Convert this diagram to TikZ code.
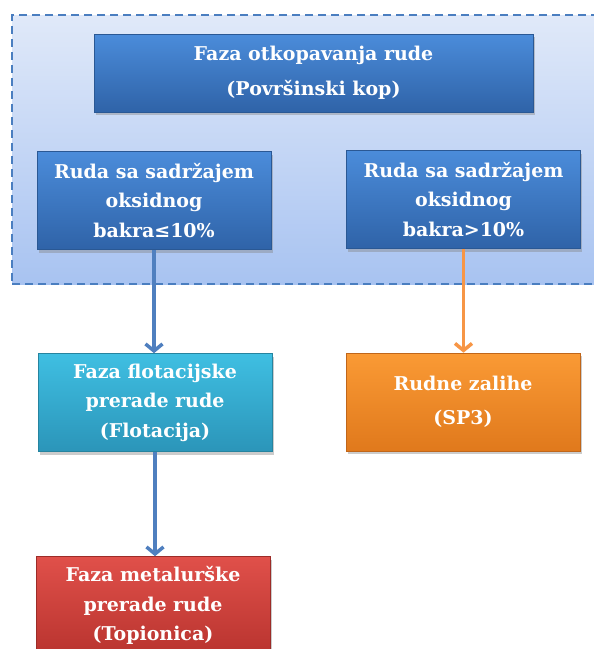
\documentclass[tikz,border=0pt]{standalone}
\usepackage{fontspec}
\setmainfont{DejaVu Serif}
\usepackage{tikz}
\usetikzlibrary{arrows.meta, shadows}
\definecolor{zoneTop}{HTML}{E0E9F9}
\definecolor{zoneBot}{HTML}{A8C3F1}
\definecolor{zoneLine}{HTML}{4A7EC0}
\definecolor{blueT}{HTML}{4B8CDA}
\definecolor{blueB}{HTML}{2F63A8}
\definecolor{blueL}{HTML}{2A5894}
\definecolor{cyanT}{HTML}{3FBFE2}
\definecolor{cyanB}{HTML}{2B95B9}
\definecolor{cyanL}{HTML}{26849F}
\definecolor{orngT}{HTML}{FA9A35}
\definecolor{orngB}{HTML}{E0791C}
\definecolor{orngL}{HTML}{C0661A}
\definecolor{redT}{HTML}{E0504A}
\definecolor{redB}{HTML}{B9342F}
\definecolor{redL}{HTML}{9C2C28}
\definecolor{flowBlue}{HTML}{4F7FBF}
\definecolor{flowOrng}{HTML}{F79646}
\tikzset{
  >={Straight Barb[length=7pt, width=17pt]},
  phase/.style={
    rectangle, line width=0.6pt,
    minimum width=234pt, minimum height=98pt,
    align=center, inner sep=2pt, text=white,
    font=\bfseries\fontsize{19}{29.5}\selectfont,
    drop shadow={shadow xshift=1.5pt, shadow yshift=-3pt, opacity=0.4}
  },
  bluephase/.style={phase, top color=blueT, bottom color=blueB, draw=blueL},
  cyanphase/.style={phase, top color=cyanT, bottom color=cyanB, draw=cyanL},
  orngphase/.style={phase, top color=orngT, bottom color=orngB, draw=orngL},
  redphase/.style={phase, top color=redT, bottom color=redB, draw=redL},
  zone/.style={
    rectangle, draw=zoneLine, dash pattern=on 8pt off 5pt, line width=1.8pt,
    top color=zoneTop, bottom color=zoneBot, inner sep=0pt
  },
  flow/.style={line width=3.5pt, ->},
}

\begin{document}
\begin{tikzpicture}[x=1pt, y=-1pt]
\useasboundingbox (0,0) rectangle (594,649);

% dashed frame round the mining phase (runs past the right edge)
\node[zone, minimum width=588pt, minimum height=269pt] (zone) at (306, 149.5) {};

\node[bluephase, minimum width=439pt, minimum height=78pt] (otkop) at (313.5, 73)
  {Faza otkopavanja rude\\[6pt](Površinski kop)};
\node[bluephase] (rudaLo) at (154, 200.5) {Ruda sa sadržajem\\oksidnog\\bakra≤10\%};
\node[bluephase] (rudaHi) at (463.5, 199.5) {Ruda sa sadržajem\\oksidnog\\bakra>10\%};

\node[cyanphase] (flot)  at (155, 402.5) {Faza flotacijske\\prerade rude\\(Flotacija)};
\node[orngphase] (zalihe) at (463, 402) {Rudne zalihe\\[4pt](SP3)};
\node[redphase]  (topio) at (153, 605.5) {Faza metalurške\\prerade rude\\(Topionica)};

% flow between phases
\draw[flow, color=flowBlue] (rudaLo.south) -- (rudaLo.south |- flot.north);
\draw[flow, color=flowOrng] (rudaHi.south) -- (rudaHi.south |- zalihe.north);
\draw[flow, color=flowBlue] (flot.south) -- (flot.south |- topio.north);

\end{tikzpicture}
\end{document}
